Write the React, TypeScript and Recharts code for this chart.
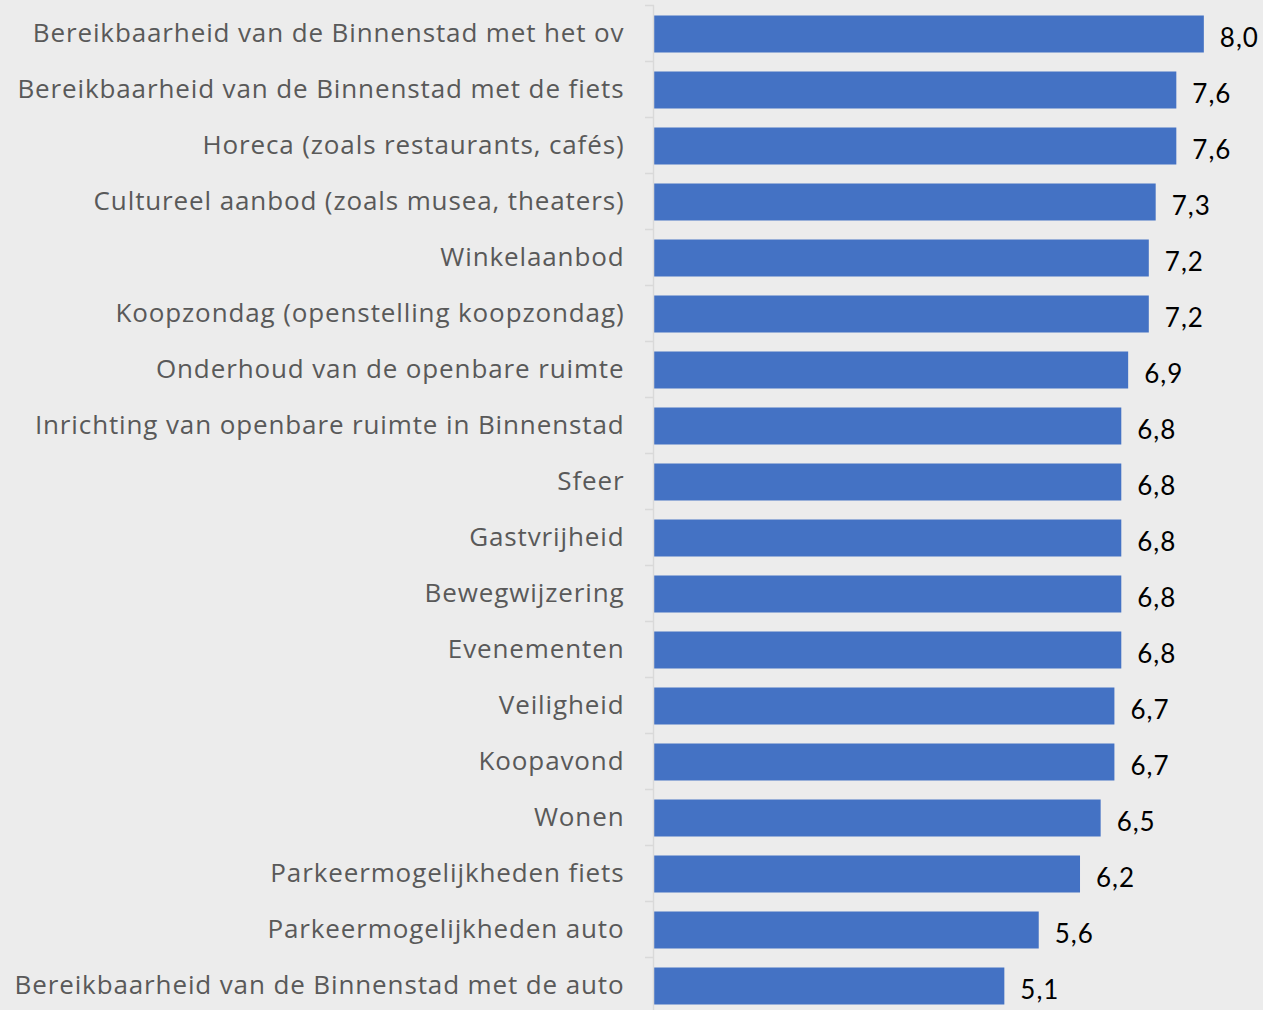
import React from "react";
import { Bar, BarChart, LabelList, XAxis, YAxis } from "recharts";

// Rapportcijfers Binnenstad (hoog -> laag)
const categories = [
  "Bereikbaarheid van de Binnenstad met het ov",
  "Bereikbaarheid van de Binnenstad met de fiets",
  "Horeca (zoals restaurants, cafés)",
  "Cultureel aanbod (zoals musea, theaters)",
  "Winkelaanbod",
  "Koopzondag (openstelling koopzondag)",
  "Onderhoud van de openbare ruimte",
  "Inrichting van openbare ruimte in Binnenstad",
  "Sfeer",
  "Gastvrijheid",
  "Bewegwijzering",
  "Evenementen",
  "Veiligheid",
  "Koopavond",
  "Wonen",
  "Parkeermogelijkheden fiets",
  "Parkeermogelijkheden auto",
  "Bereikbaarheid van de Binnenstad met de auto",
];

const scores = [8.0, 7.6, 7.6, 7.3, 7.2, 7.2, 6.9, 6.8, 6.8, 6.8, 6.8, 6.8, 6.7, 6.7, 6.5, 6.2, 5.6, 5.1];

const data = categories.map((name, i) => ({ name, score: scores[i] }));

const BAR_COLOR = "#4472c4";
const LABEL_COLOR = "#595959";
const BG = "#ececec";

const fmt = (v: number) => v.toFixed(1).replace(".", ",");

// categorie-label + klein streepje op de grens tussen twee balken (zoals Excel)
function CategoryTick(props: any) {
  const { x, y, payload } = props;
  const half = payload?.offset ?? 0;
  return (
    <g>
      <line x1={x - 0.5} x2={x + 8.5} y1={y - half} y2={y - half} stroke="#d9d9d9" strokeWidth={1.5} />
      <text
        x={x - 21}
        y={y + 8}
        textAnchor="end"
        fill={LABEL_COLOR}
        fontSize={26}
        letterSpacing={0.88}
        fontFamily="'Open Sans', sans-serif"
      >
        {payload.value}
      </text>
    </g>
  );
}

function ValueLabel(props: any) {
  const { x, y, width, height, value } = props;
  return (
    <text
      x={x + width + 16}
      y={y + height / 2 + 3}
      dominantBaseline="central"
      fill="#000"
      fontSize={26}
      letterSpacing={1}
      fontFamily="Lato, sans-serif"
    >
      {fmt(value)}
    </text>
  );
}

export default function App() {
  return (
    <div
      style={{
        position: "absolute",
        left: 0,
        top: 0,
        width: 1263,
        height: 1010,
        overflow: "hidden",
        background: BG,
      }}
    >
      <BarChart
        width={1263}
        height={1014}
        data={data}
        layout="vertical"
        margin={{ top: 5.5, right: 0, bottom: 0.5, left: 0 }}
        barSize={37}
      >
        <XAxis type="number" domain={[0, 8.86]} hide />
        <YAxis
          type="category"
          dataKey="name"
          width={653.5}
          axisLine={{ stroke: "#d9d9d9", strokeWidth: 1.5 }}
          tickLine={false}
          tick={<CategoryTick />}
          interval={0}
        />
        <Bar dataKey="score" fill={BAR_COLOR} isAnimationActive={false}>
          <LabelList dataKey="score" content={<ValueLabel />} />
        </Bar>
      </BarChart>
    </div>
  );
}
